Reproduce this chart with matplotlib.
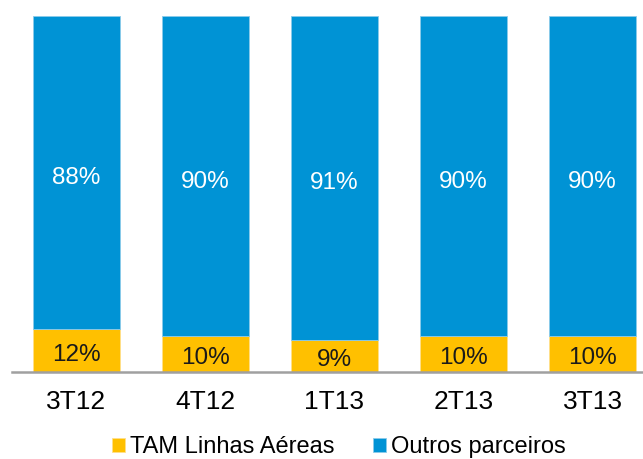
import numpy as np
import matplotlib.pyplot as plt

plt.rcParams['font.family'] = ['Liberation Sans', 'DejaVu Sans']

periods = ['3T12', '4T12', '1T13', '2T13', '3T13']
tam = [12, 10, 9, 10, 10]
outros = [88, 90, 91, 90, 90]

yellow = '#FFC000'
blue = '#0093D5'

fig = plt.figure(figsize=(6.43, 4.59), dpi=100)
ax = fig.add_axes([12 / 643, 87 / 459, 645 / 643, 356 / 459])

x = np.arange(len(periods))
ax.bar(x, tam, width=0.667, color=yellow, edgecolor='#FFE08A', linewidth=0.6, label='TAM Linhas Aéreas')
ax.bar(x, outros, bottom=tam, width=0.667, color=blue, edgecolor='#8CCBEA', linewidth=0.6, label='Outros parceiros')

for i in range(len(periods)):
    ax.text(x[i], tam[i] / 2 - 1.2, f'{tam[i]}%', ha='center', va='center', fontsize=17.5, color='#1a1a1a')
    ax.text(x[i], tam[i] + outros[i] / 2 - 1.5, f'{outros[i]}%', ha='center', va='center', fontsize=17.5, color='white')

ax.set_xlim(-0.5, len(periods) - 0.5)
ax.set_ylim(0, 100)
ax.set_xticks(x)
ax.set_xticklabels(periods, fontsize=19)
ax.tick_params(axis='x', length=0, pad=13)
ax.set_yticks([])
for s in ['top', 'right', 'left']:
    ax.spines[s].set_visible(False)
ax.spines['bottom'].set_color('#A0A0A0')
ax.spines['bottom'].set_linewidth(1.8)

fig.legend(loc='center', bbox_to_anchor=(339 / 643, 1 - 447 / 459), ncol=2, frameon=False,
           fontsize=17, handlelength=0.55, handleheight=0.55, handletextpad=0.2, columnspacing=1.65)

fig.savefig('out.png', dpi=100)
